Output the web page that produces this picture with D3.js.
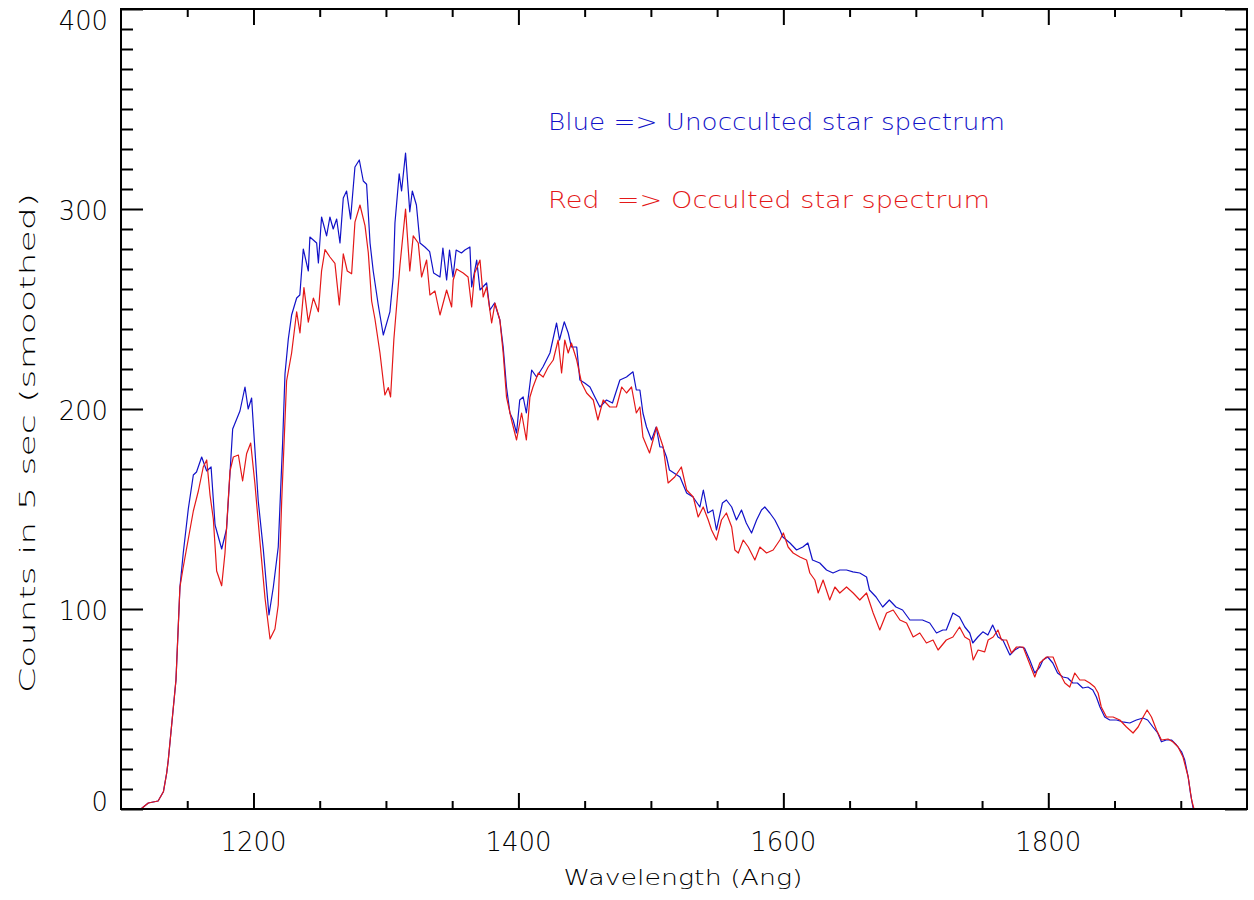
<!DOCTYPE html>
<html>
<head>
<meta charset="utf-8">
<script src="https://cdn.jsdelivr.net/npm/d3@7"></script>
<style>
  html, body { margin: 0; padding: 0; background: #fff; }
  svg { display: block; }
  text { font-family: "DejaVu Sans", "Liberation Sans", sans-serif; font-weight: 200; }
</style>
</head>
<body>
<svg id="chart" width="1254" height="900"></svg>
<script>
// ---------------- data ----------------
const blueWavelength = [1115,1120.6,1128,1132,1134.5,1135.7,1141.5,1144.5,1147,1150.8,1154.6,1157,1160.9,1164.7,1168,1171,1176,1179.7,1184.3,1189.8,1193.6,1196,1198.6,1199.9,1203.6,1207.4,1211.7,1215,1218.7,1222,1223.8,1226.3,1228.8,1232.6,1235,1237.6,1241.4,1242.6,1247.7,1249,1251.4,1255.2,1257.7,1260.2,1262.8,1265.3,1267.8,1270.3,1273.3,1276.6,1279.9,1282.9,1285.4,1288,1290.4,1294.2,1298,1303,1305.5,1306.8,1310,1311.8,1314.8,1318,1319.9,1323,1325.7,1329.4,1333,1336,1340.8,1343,1345.8,1348,1350.6,1353,1357,1359.6,1363.4,1364.7,1368.5,1371,1376,1378.5,1382,1386,1388.5,1391,1393.6,1396,1398.6,1401,1403.6,1406,1410,1413.7,1418.5,1423.8,1428.8,1431,1434.6,1437.6,1440,1444,1446.4,1450,1454,1457.7,1461.5,1466.5,1471,1476.6,1481.6,1486.5,1489,1491.7,1494,1496.7,1500.5,1504,1506.8,1509,1511.8,1514,1522,1527,1531.8,1537,1539.6,1543,1546.8,1549.5,1554,1557,1561,1564.6,1568.4,1572,1576,1579.8,1583.5,1586,1589.8,1593.6,1597.4,1599.6,1605,1610,1614.7,1618.5,1622,1627.5,1632.6,1637.5,1642.6,1647.7,1652.5,1657.7,1662.8,1665,1670,1675,1680,1685,1690,1695.5,1700.5,1705,1710.5,1715.6,1720.4,1723,1728,1733,1737,1740.7,1743,1746.8,1750.6,1754.4,1758,1762,1765.7,1771,1774.7,1778.5,1782,1786,1789.8,1793.6,1796,1799.6,1803.4,1807,1811,1814.7,1818.5,1822,1826,1830,1833.6,1836.3,1839,1842.6,1846.4,1851.5,1856,1861.5,1866.5,1871.5,1875,1879,1882.6,1885.4,1889,1893,1896.8,1900.6,1903,1905.6,1907.3,1909.3];
const blueCounts = [0,3,4,8.6,18,24.5,64.5,111,128,150,167,168.5,176,169,171,142,130,140,190,199,211,200,205.5,192,154,130,97,111,131,183,217.6,235,247,255.5,257,280,269,286,283,273,296,286.6,296,290,295,283,305.5,309,295,321,324.5,314,312.4,283,269,252,237,248.6,266,293,317.6,309,328,298.6,309,302,283,281,278.7,268,266,280.5,264.5,279.5,266,279.5,278,279.5,281,261,274.5,259.5,263,249.5,253,244.5,231,211,198,194.5,188,204.5,206,198,219.5,216,221,228,243,234.5,243.6,238,231,231,214.5,213,211,206,201,204.5,203,214.5,216,218.6,209.5,209.5,198,191,184.5,191,181,181,176,169.5,166,158,156,151,159.5,148,149.5,139.5,153,154.5,151,144.5,149.5,143,138,144.5,149.5,151,148,144.5,139.5,136,133,129.5,131,133,124.5,123,119.5,118,119.5,119.5,118.6,118,116,109.5,106,101,104.5,101,99.5,94.5,94.5,94.5,93,88,89.5,89.5,98,96,91,88,83,86,88.6,87,92,86,84.5,77,79.5,81,80.5,74.5,68,71,74.5,76,73,68,66,65.5,63,63,60.5,61,59.5,56,51,46,44.5,44.5,43.6,43,44.5,45.5,44.5,41,38,33.6,34.5,34.5,32,28.6,24.5,16,8,0.5];

const redWavelength = [1115,1120.6,1128,1132,1134.5,1135.7,1141.5,1144.5,1147,1150.8,1154.6,1158.4,1162.1,1164.7,1167.2,1169.7,1172.2,1176,1178.5,1182.3,1184.8,1188.6,1191.8,1194.8,1197.9,1201.1,1204.9,1208.7,1212.5,1216.2,1218.7,1221.3,1225,1228.8,1232.6,1235.1,1238.1,1241.4,1245.2,1249,1251.4,1254,1257.7,1261.5,1264.8,1267.8,1270.8,1274.1,1276.6,1280.4,1284.2,1286.7,1289.2,1291.7,1295.5,1299.2,1301.8,1303.5,1306,1310.6,1314.8,1318,1320.6,1324.4,1326.9,1330.7,1333.2,1337,1340.8,1345.8,1349.6,1350.8,1353.3,1358.3,1362,1364.7,1367,1371,1373.4,1376,1379.8,1382.3,1386,1388.5,1391,1394.8,1398.6,1402.4,1406,1408.7,1411,1415,1418.7,1422.5,1426.3,1430,1432.6,1435,1437.6,1440,1444,1447.7,1451.5,1456.5,1460,1464,1469,1474,1478,1481.6,1485.4,1489,1491.7,1494,1499,1504.3,1509.3,1513,1518,1523,1527,1532,1535.7,1539.5,1543.3,1545.8,1549.5,1553.3,1557,1561,1563.4,1566,1569.7,1573.5,1578.5,1582.3,1587.3,1592.3,1597.4,1600,1603.6,1607.4,1612.5,1617.5,1620,1623.8,1626.3,1630,1635,1638.9,1642.6,1647.7,1652.7,1657.7,1662.8,1667.8,1672.8,1677.9,1682.9,1688,1693,1698,1703,1708,1713,1716.8,1723,1728,1733,1737,1740.7,1743.3,1747,1752,1754.6,1758.4,1762,1764.7,1768.5,1772.2,1776,1781,1784.8,1789.8,1793.6,1798.6,1803.6,1807.4,1812.5,1816.2,1820,1823.8,1827.5,1831.3,1835,1837.6,1840,1843.9,1848.9,1854,1859,1864,1867.8,1871.6,1874.6,1877.9,1881.7,1885.4,1890.4,1894.2,1898,1901.7,1905.6,1908.2,1910];
const redCounts = [0,3,4,8.6,18,24.5,64.5,111,121,135,149,159,171,174.5,157,145,119,111.6,128,169,176,177,164,177.6,183,162.6,133.6,105.5,85,90,102,154,214,228,248.6,238,260.7,243.4,255.5,248.6,269,279.7,276,272.8,252,277.6,269,267.6,293.4,302,291.7,278,254,245,228,207,210.7,206,235,272,300,269,286.6,283,266,274.5,257,259,247,259.5,251,264.5,270,268,266,251,268,274.5,256,261,243,253,244.5,228,206,194.5,184.5,198,184.5,206,211,218,216,221,224.5,234.5,218,234.5,228,233,224.5,213,208,204.5,194.5,204.5,201,201,211,208,211,198,201,186,178,191,181,163,166,171,159.5,156,146,151,144.5,139.5,134.5,144.5,148,141,129.5,128,134.5,131,124.5,131,128,129.5,134.5,138,131,128,126,124.5,118,114.5,108,114.5,104.5,111,108,111,108,104.5,108,98,89.5,98,99.5,94.5,93,86,88,83,84.5,79.5,84.5,86,91,86,84.5,74.5,79.5,78.6,84.5,86,89.5,84.5,84.5,78,81,81,74.5,66,73,76,76,69.5,63,61,68,64.5,64.5,63,61,58,51,46,46,44.5,41,38,41,46,49.5,46,39.5,34.5,35,33.5,31,26,16,4.5,0];

const xMajorTicks = [1200, 1400, 1600, 1800];
const yMajorTicks = [0, 100, 200, 300, 400];
const xLabel = "Wavelength (Ang)";
const yLabel = "Counts in 5 sec (smoothed)";
const legendLines = ["Blue => Unocculted star spectrum", "Red  => Occulted star spectrum"];

// ---------------- layout ----------------
const svg = d3.select("#chart");
const L = 121, R = 1247, T = 9, B = 809;
const x = d3.scaleLinear().domain([1100, 1950]).range([L, R]);
const y = d3.scaleLinear().domain([0, 400]).range([B, T]);
const BLUE = "#1212c8", RED = "#e41818";

const xMinor = d3.range(1100, 1951, 50).filter(v => !xMajorTicks.includes(v) && v > 1100 && v < 1950);
const yMinor = d3.range(0, 401, 10).filter(v => v % 100 !== 0);

function styleAxis(g) {
  g.select(".domain").remove();
  g.selectAll(".tick line").attr("stroke", "#000").attr("stroke-width", 2);
  g.selectAll(".tick text").remove();
}
// bottom & top axes
svg.append("g").attr("transform", `translate(0,${B})`)
  .call(d3.axisBottom(x).tickValues(xMajorTicks).tickSize(-16)).call(styleAxis);
svg.append("g").attr("transform", `translate(0,${B})`)
  .call(d3.axisBottom(x).tickValues(xMinor).tickSize(-8)).call(styleAxis);
svg.append("g").attr("transform", `translate(0,${T})`)
  .call(d3.axisTop(x).tickValues(xMajorTicks).tickSize(-16)).call(styleAxis);
svg.append("g").attr("transform", `translate(0,${T})`)
  .call(d3.axisTop(x).tickValues(xMinor).tickSize(-8)).call(styleAxis);
// left & right axes
svg.append("g").attr("transform", `translate(${L},0)`)
  .call(d3.axisLeft(y).tickValues(yMajorTicks).tickSize(-22)).call(styleAxis);
svg.append("g").attr("transform", `translate(${L},0)`)
  .call(d3.axisLeft(y).tickValues(yMinor).tickSize(-12)).call(styleAxis);
svg.append("g").attr("transform", `translate(${R},0)`)
  .call(d3.axisRight(y).tickValues(yMajorTicks).tickSize(-22)).call(styleAxis);
svg.append("g").attr("transform", `translate(${R},0)`)
  .call(d3.axisRight(y).tickValues(yMinor).tickSize(-12)).call(styleAxis);

// curves
const line = d3.line().x(d => x(d[0])).y(d => y(d[1]));
const blue = blueWavelength.map((w, i) => [w, blueCounts[i]]);
const red = redWavelength.map((w, i) => [w, redCounts[i]]);
svg.append("path").datum(blue).attr("d", line)
  .attr("fill", "none").attr("stroke", BLUE).attr("stroke-width", 1.2).attr("stroke-linejoin", "round");
svg.append("path").datum(red).attr("d", line)
  .attr("fill", "none").attr("stroke", RED).attr("stroke-width", 1.2).attr("stroke-linejoin", "round");

// frame
svg.append("rect").attr("x", L).attr("y", T).attr("width", R - L).attr("height", B - T)
  .attr("fill", "none").attr("stroke", "#000").attr("stroke-width", 2);

// tick labels
svg.selectAll(".xl").data(xMajorTicks).enter().append("text")
  .attr("x", d => x(d)).attr("y", 851)
  .attr("text-anchor", "middle").attr("font-size", 27).attr("fill", "#000")
  .attr("textLength", d => String(d).length * 16.5).attr("lengthAdjust", "spacingAndGlyphs")
  .text(d => d);
svg.selectAll(".yl").data(yMajorTicks).enter().append("text")
  .attr("x", 108).attr("y", d => Math.max(19.5, Math.min(801, y(d) + 1)) + 10)
  .attr("text-anchor", "end").attr("font-size", 27).attr("fill", "#000")
  .attr("textLength", d => String(d).length * 16.4).attr("lengthAdjust", "spacingAndGlyphs")
  .text(d => d);

// axis titles
svg.append("text").attr("x", 683).attr("y", 885).attr("text-anchor", "middle")
  .attr("font-size", 22).attr("fill", "#000")
  .attr("textLength", 239).attr("lengthAdjust", "spacingAndGlyphs").text(xLabel);
svg.append("text").attr("transform", "translate(35,443) rotate(-90)").attr("text-anchor", "middle")
  .attr("font-size", 22).attr("fill", "#000")
  .attr("textLength", 500).attr("lengthAdjust", "spacingAndGlyphs").text(yLabel);

// legend text
svg.append("text").attr("x", 548).attr("y", 130).attr("font-size", 23).attr("fill", BLUE)
  .style("white-space", "pre").attr("textLength", 457).attr("lengthAdjust", "spacingAndGlyphs")
  .text(legendLines[0]);
svg.append("text").attr("x", 548).attr("y", 208).attr("font-size", 23).attr("fill", RED)
  .style("white-space", "pre").attr("textLength", 442).attr("lengthAdjust", "spacingAndGlyphs")
  .text(legendLines[1]);
</script>
</body>
</html>
